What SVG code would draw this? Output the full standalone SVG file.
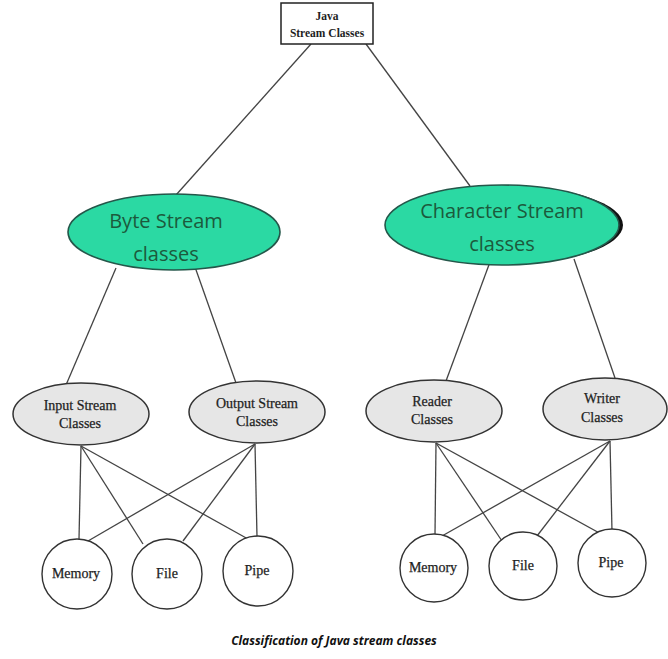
<svg xmlns="http://www.w3.org/2000/svg" width="668" height="659" viewBox="0 0 668 659">
  <defs>
    <style>
      .edge { stroke: #444; stroke-width: 1.3; fill: none; }
      .root { fill: #ffffff; stroke: #222; stroke-width: 1.5; }
      .group { fill: #2bd9a3; stroke: #24574a; stroke-width: 1.6; }
      .kind { fill: #e6e6e6; stroke: #333; stroke-width: 1.5; }
      .leaf { fill: #ffffff; stroke: #333; stroke-width: 1.4; }
      .serif { font-family: "Liberation Serif", "Times New Roman", serif; font-size: 14px; fill: #1e1e1e; stroke: #1e1e1e; stroke-width: 0.25; text-anchor: middle; }
      .title { font-size: 11.5px; font-weight: bold; stroke: none; }
      .big { font-family: "Open Sans", "Noto Sans", sans-serif; font-size: 20px; fill: #1c5a3c; text-anchor: middle; }
      .caption { font-family: "Open Sans", "Noto Sans", sans-serif; font-size: 12px; font-weight: bold; font-style: italic; fill: #111; text-anchor: middle; }
    </style>
  </defs>
  <rect width="668" height="659" fill="#ffffff"/>

  <!-- connectors -->
  <g id="connectors" class="edge">
    <line x1="311" y1="44" x2="176" y2="195"/>
    <line x1="366" y1="44" x2="470" y2="186"/>
    <line x1="116" y1="268" x2="66" y2="385"/>
    <line x1="195" y1="267" x2="236" y2="383"/>
    <line x1="490" y1="262" x2="446" y2="381"/>
    <line x1="574" y1="259" x2="615" y2="378"/>
    <!-- byte side -->
    <line x1="81" y1="446" x2="79" y2="539"/>
    <line x1="81" y1="446" x2="143" y2="544"/>
    <line x1="81" y1="446" x2="248" y2="539"/>
    <line x1="255" y1="444" x2="88" y2="541"/>
    <line x1="255" y1="444" x2="183" y2="541"/>
    <line x1="255" y1="444" x2="257" y2="537"/>
    <!-- character side -->
    <line x1="436" y1="443" x2="435" y2="535"/>
    <line x1="436" y1="443" x2="502" y2="541"/>
    <line x1="436" y1="443" x2="603" y2="535"/>
    <line x1="610" y1="441" x2="442" y2="536"/>
    <line x1="610" y1="441" x2="537" y2="536"/>
    <line x1="610" y1="441" x2="612" y2="531"/>
  </g>

  <g id="java-stream-classes">
    <rect class="root" x="281" y="3" width="92" height="41"/>
    <text class="serif title" x="327" y="20">Java</text>
    <text class="serif title" x="327" y="37">Stream Classes</text>
  </g>

  <g id="byte-stream-classes">
    <ellipse class="group" cx="174" cy="232" rx="106" ry="38"/>
    <text class="big" x="166" y="228">Byte Stream</text>
    <text class="big" x="166" y="261">classes</text>
  </g>

  <g id="character-stream-classes">
    <ellipse cx="506" cy="225" rx="117" ry="39" fill="#111"/>
    <ellipse class="group" cx="502" cy="225" rx="117" ry="40"/>
    <text class="big" x="502" y="218">Character Stream</text>
    <text class="big" x="502" y="251">classes</text>
  </g>

  <g id="input-stream-classes">
    <ellipse class="kind" cx="81" cy="414" rx="68" ry="31"/>
    <text class="serif" x="80" y="410">Input Stream</text>
    <text class="serif" x="80" y="428">Classes</text>
  </g>

  <g id="output-stream-classes">
    <ellipse class="kind" cx="257" cy="412" rx="68" ry="31"/>
    <text class="serif" x="257" y="408">Output Stream</text>
    <text class="serif" x="257" y="426">Classes</text>
  </g>

  <g id="reader-classes">
    <ellipse class="kind" cx="434" cy="411" rx="68" ry="31"/>
    <text class="serif" x="432" y="406">Reader</text>
    <text class="serif" x="432" y="424">Classes</text>
  </g>

  <g id="writer-classes">
    <ellipse class="kind" cx="605" cy="409" rx="62" ry="31"/>
    <text class="serif" x="602" y="403">Writer</text>
    <text class="serif" x="602" y="422">Classes</text>
  </g>

  <g id="byte-memory">
    <circle class="leaf" cx="77" cy="574" r="35"/>
    <text class="serif" x="76" y="578">Memory</text>
  </g>
  <g id="byte-file">
    <circle class="leaf" cx="167" cy="574" r="35"/>
    <text class="serif" x="167" y="578">File</text>
  </g>
  <g id="byte-pipe">
    <circle class="leaf" cx="258" cy="571" r="35"/>
    <text class="serif" x="257" y="575">Pipe</text>
  </g>

  <g id="char-memory">
    <circle class="leaf" cx="434" cy="568" r="34"/>
    <text class="serif" x="433" y="572">Memory</text>
  </g>
  <g id="char-file">
    <circle class="leaf" cx="523" cy="566" r="34"/>
    <text class="serif" x="523" y="570">File</text>
  </g>
  <g id="char-pipe">
    <circle class="leaf" cx="612" cy="563" r="34"/>
    <text class="serif" x="611" y="567">Pipe</text>
  </g>

  <text class="caption" x="334" y="645">Classification of Java stream classes</text>
</svg>
